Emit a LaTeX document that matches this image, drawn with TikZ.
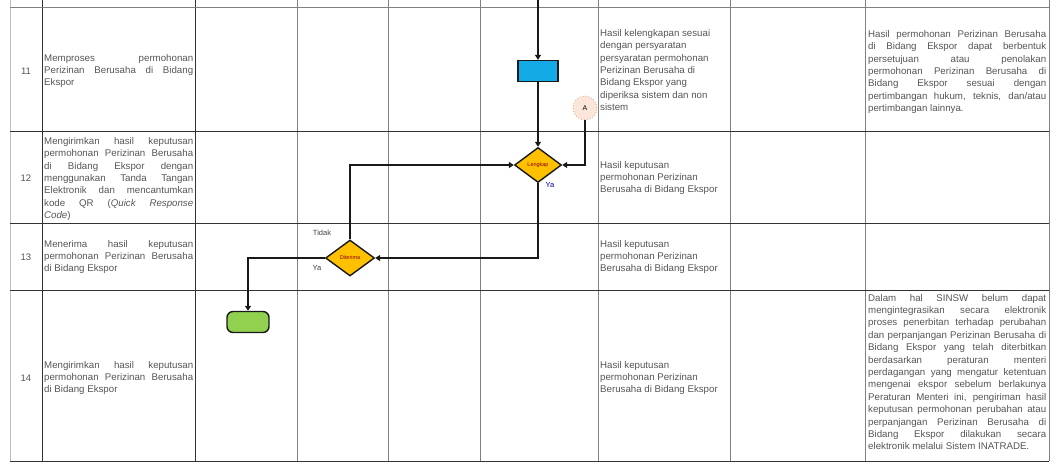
\documentclass[tikz,border=0pt]{standalone}
\usepackage{fontspec}
\setmainfont{Liberation Sans}
\usetikzlibrary{shapes.geometric,arrows.meta}
\definecolor{procfill}{RGB}{20,170,230}
\definecolor{decfill}{RGB}{255,192,0}
\definecolor{termfill}{RGB}{146,208,80}
\definecolor{connfill}{RGB}{252,230,218}
\definecolor{txtgray}{RGB}{85,85,85}
\newcommand{\Jd}[1]{\makebox[149pt][s]{#1}}
\newcommand{\Jn}[1]{\makebox[178pt][s]{#1}}
\tikzset{
  gridline/.style={draw=black!50, line width=0.9pt},
  darkline/.style={draw=black!80, line width=1pt},
  lightline/.style={draw=black!25, line width=0.8pt},
  celltext/.style={anchor=west, inner sep=0pt, text=txtgray, align=left,
    font=\fontsize{9.7}{12.4}\selectfont},
  rownum/.style={inner sep=0pt, text=txtgray, font=\fontsize{9.5}{11}\selectfont},
  flow/.style={line width=2.4pt, draw=black!90, -{Triangle[length=5pt,width=6pt]}},
  procbox/.style={draw=black!90, line width=1.3pt, fill=procfill, minimum width=40pt, minimum height=21pt, inner sep=0pt},
  decbox/.style={shape=diamond, draw=black!90, line width=1.4pt, fill=decfill, inner sep=0pt, text=red!55!black, font=\fontsize{5.5}{6}\selectfont},
  termbox/.style={draw=black!90, line width=1.4pt, fill=termfill, rounded corners=6pt, minimum width=42pt, minimum height=21pt, inner sep=0pt},
  connbox/.style={circle, draw=brown!60, dotted, line width=0.9pt, fill=connfill, minimum size=24pt, inner sep=0pt, font=\fontsize{7}{8}\selectfont},
  lbl/.style={inner sep=0pt, font=\fontsize{7.5}{8}\selectfont, text=black!75},
}
\begin{document}
\begin{tikzpicture}[x=1pt,y=-1pt]
\useasboundingbox (0,0) rectangle (1054,463);
% grid
\draw[lightline] (10,0) -- (10,461);
\foreach \x in {297,388,480,598,730,865,1049} \draw[gridline] (\x,0) -- (\x,461);
\foreach \x in {42,195} \draw[darkline] (\x,0) -- (\x,461);
\draw[gridline] (10,7) -- (1049,7);
\foreach \y in {131,223,290,461} \draw[darkline] (10,\y) -- (1049,\y);

% row numbers
\node[rownum] (n11) at (26,71) {11};
\node[rownum] (n12) at (26,178) {12};
\node[rownum] (n13) at (26,257) {13};
\node[rownum] (n14) at (26,378) {14};

% descriptions
\node[celltext] (d11) at (44,71) {\Jd{Memproses permohonan}\\\Jd{Perizinan Berusaha di Bidang}\\Ekspor};
\node[celltext] (d12) at (44,179) {\Jd{Mengirimkan hasil keputusan}\\\Jd{permohonan Perizinan Berusaha}\\\Jd{di Bidang Ekspor dengan}\\\Jd{menggunakan Tanda Tangan}\\\Jd{Elektronik dan mencantumkan}\\\Jd{kode QR (\textit{Quick Response}}\\\textit{Code})};
\node[celltext] (d13) at (44,257) {\Jd{Menerima hasil keputusan}\\\Jd{permohonan Perizinan Berusaha}\\di Bidang Ekspor};
\node[celltext] (d14) at (44,378) {\Jd{Mengirimkan hasil keputusan}\\\Jd{permohonan Perizinan Berusaha}\\di Bidang Ekspor};

% outputs
\node[celltext] (o11) at (600,70) {Hasil kelengkapan sesuai\\dengan persyaratan\\persyaratan permohonan\\Perizinan Berusaha di\\Bidang Ekspor yang\\diperiksa sistem dan non\\sistem};
\node[celltext] (o12) at (600,178) {Hasil keputusan\\permohonan Perizinan\\Berusaha di Bidang Ekspor};
\node[celltext] (o13) at (600,257) {Hasil keputusan\\permohonan Perizinan\\Berusaha di Bidang Ekspor};
\node[celltext] (o14) at (600,378) {Hasil keputusan\\permohonan Perizinan\\Berusaha di Bidang Ekspor};

% notes
\node[celltext] (k11) at (868,72) {\Jn{Hasil permohonan Perizinan Berusaha}\\\Jn{di Bidang Ekspor dapat berbentuk}\\\Jn{persetujuan atau penolakan}\\\Jn{permohonan Perizinan Berusaha di}\\\Jn{Bidang Ekspor sesuai dengan}\\\Jn{pertimbangan hukum, teknis, dan/atau}\\pertimbangan lainnya.};
\node[celltext] (k14) at (868,372) {\Jn{Dalam hal SINSW belum dapat}\\\Jn{mengintegrasikan secara elektronik}\\\Jn{proses penerbitan terhadap perubahan}\\\Jn{dan perpanjangan Perizinan Berusaha di}\\\Jn{Bidang Ekspor yang telah diterbitkan}\\\Jn{berdasarkan peraturan menteri}\\\Jn{perdagangan yang mengatur ketentuan}\\\Jn{mengenai ekspor sebelum berlakunya}\\\Jn{Peraturan Menteri ini, pengiriman hasil}\\\Jn{keputusan permohonan perubahan atau}\\\Jn{perpanjangan Perizinan Berusaha di}\\\Jn{Bidang Ekspor dilakukan secara}\\elektronik melalui Sistem INATRADE.};

% flow
\coordinate (top) at (538,0);
\node[procbox] (p1) at (538,71) {};
\node[decbox, minimum width=47pt, minimum height=35pt] (c1) at (538,165) {Lengkap};
\node[connbox] (A) at (585,108) {A};
\node[decbox, minimum width=49pt, minimum height=36pt] (c2) at (350,258) {Diterima};
\node[termbox] (t1) at (248,322) {};

\draw[flow] (top) -- (p1);
\draw[flow] (p1) -- (c1);
\draw[flow] (A) |- (c1.east);
\draw[flow] (c2.north) |- (c1.west);
\draw[flow] (c1.south) |- (c2.east);
\draw[flow] (c2.west) -| (t1.north);

\node[lbl, text=blue!60!black] (ya1) at (550,185) {Ya};
\node[lbl] (tidak) at (322,233) {Tidak};
\node[lbl] (ya2) at (317,268) {Ya};
\end{tikzpicture}
\end{document}
